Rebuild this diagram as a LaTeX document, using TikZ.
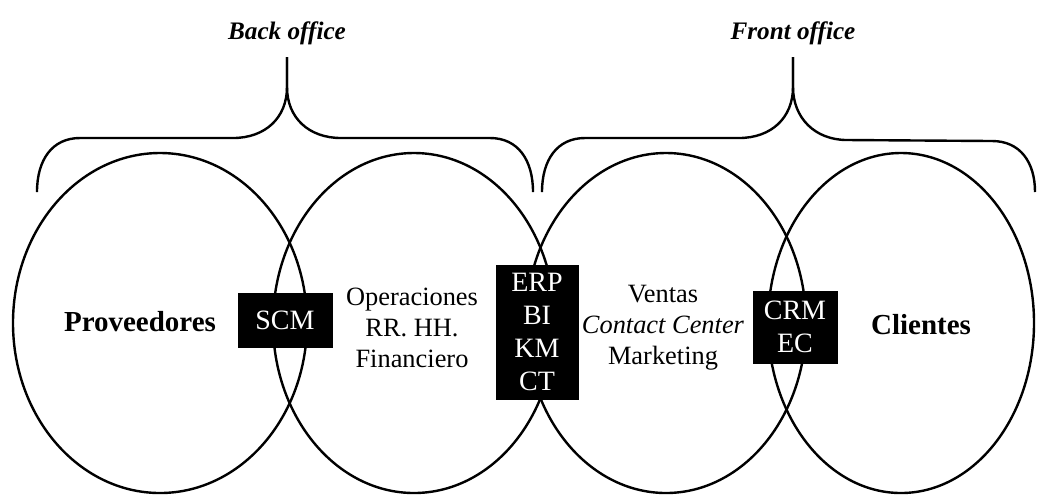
\documentclass[tikz,border=0pt]{standalone}
\usepackage{fontspec}
\setmainfont{Liberation Serif}

\begin{document}
\begin{tikzpicture}[x=0.5pt, y=-0.5pt, line width=1.2pt]
	\tikzstyle{every node}=[align=center, inner sep=1pt]
	\tikzstyle{sistema}=[fill=black, text=white, font=\fontsize{14}{16.5}\selectfont]
	\tikzstyle{area}=[font=\fontsize{13.2}{15.5}\selectfont]
	\tikzstyle{actor}=[font=\bfseries\fontsize{14.5}{17}\selectfont]
	\tikzstyle{oficina}=[font=\bfseries\itshape\fontsize{12.6}{14}\selectfont]
	\useasboundingbox (0, 0) rectangle (1037, 495);

	% the four areas
	\draw (160, 323) ellipse [x radius=147, y radius=170];
	\draw (414, 323) ellipse [x radius=141, y radius=170];
	\draw (666, 323) ellipse [x radius=140, y radius=170];
	\draw (901, 323) ellipse [x radius=133, y radius=170];

	% braces
	\node[oficina] (Back) at (287, 33) {Back office};
	\node[oficina] (Front) at (793, 33) {Front office};
	\coordinate (B0) at (287, 57);
	\coordinate (F0) at (793, 57);

	\draw (37, 192) .. controls (37, 160) and (52, 138) .. (80, 138) -- (233, 138)
		.. controls (265, 138) and (287, 118) .. (287, 87) -- (B0);
	\draw (B0) -- (287, 87) .. controls (287, 118) and (309, 138) .. (341, 138)
		-- (490, 138) .. controls (518, 138) and (533, 160) .. (533, 192);
	\draw (542, 192) .. controls (542, 160) and (557, 138) .. (585, 138) -- (739, 138)
		.. controls (771, 138) and (793, 118) .. (793, 87) -- (F0);
	\draw (F0) -- (793, 87) .. controls (793, 118) and (815, 140) .. (847, 140)
		-- (992, 141) .. controls (1020, 141) and (1035, 162) .. (1035, 192);

	% labels
	\node[actor] (Prov) at (140, 322) {Proveedores};
	\node[actor] (Cli) at (921, 325) {Clientes};
	\node[area] (Oper) at (412, 328) {Operaciones\\RR. HH.\\Financiero};
	\node[area] (Vent) at (663, 328) {Ventas\\\textit{Contact Center}\\Marketing};

	\node[sistema, minimum width=47.5pt, minimum height=27.5pt] (SCM) at (285, 320) {SCM};
	\node[sistema, minimum width=41.5pt, minimum height=67.5pt] (ERP) at (537, 332) {ERP\\BI\\KM\\CT};
	\node[sistema, minimum width=42.5pt, minimum height=36.5pt] (CRM) at (795, 327) {CRM\\EC};
\end{tikzpicture}
\end{document}
